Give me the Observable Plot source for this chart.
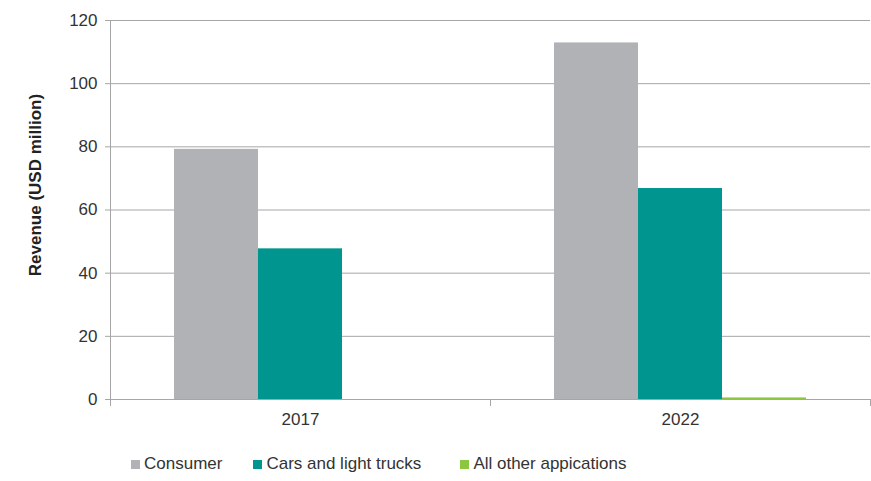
<!DOCTYPE html>
<html><head><meta charset="utf-8">
<script src="https://cdn.jsdelivr.net/npm/d3@7"></script>
<script src="https://cdn.jsdelivr.net/npm/@observablehq/plot@0.6"></script>
<style>
body{margin:0;background:#fff;font-family:"Liberation Sans",Arial,sans-serif;}
#legend{display:flex;align-items:center;height:20px;margin-top:14px;padding-left:131px;font-size:17px;color:#333;line-height:20px;}
#legend .item{display:flex;align-items:center;}
#legend .sw{width:9px;height:9px;margin-right:4px;}
</style></head><body><div id="chart"></div><div id="legend"></div>
<script>
const years = ["2017", "2022"];
const series = ["Consumer", "Cars and light trucks", "All other appications"];
const consumer = [79.2, 112.9];
const cars = [47.7, 66.8];
const other = [0, 0.5];
const colors = ["#b1b2b5", "#00968f", "#8dc63f"];
const yTicks = [0, 20, 40, 60, 80, 100, 120];

const data = years.flatMap((year, i) => [
  {year, series: series[0], value: consumer[i]},
  {year, series: series[1], value: cars[i]},
  {year, series: series[2], value: other[i]}
]);

const grid = "#a6a6a6";
const plot = Plot.plot({
  width: 871, height: 440,
  marginLeft: 110, marginRight: 1, marginTop: 20, marginBottom: 41,
  style: {fontFamily: "'Liberation Sans', Arial, sans-serif", fontSize: "17px", color: "#333", background: "#fff"},
  fx: {domain: years, padding: 0, label: null},
  x: {domain: series, paddingInner: 0, paddingOuter: 0.76, axis: null},
  y: {domain: [0, 120], label: null},
  color: {domain: series, range: colors},
  marks: [
    Plot.gridY(yTicks, {stroke: grid, strokeOpacity: 1}),
    Plot.barY(data, {fx: "year", x: "series", y: "value", fill: "series"}),
    Plot.axisY(yTicks, {tickSize: 5, tickPadding: 8, stroke: grid, label: null, facetAnchor: "left", fill: "#333"}),
    Plot.axisFx({tickSize: 0, tickPadding: 13, label: null, anchor: "bottom", fill: "#333"}),
    Plot.frame({anchor: "left", facetAnchor: "left", stroke: grid, insetBottom: -6}),
    Plot.frame({anchor: "left", stroke: grid, insetTop: 379, insetBottom: -6}),
    Plot.frame({anchor: "right", stroke: grid, insetTop: 379, insetBottom: -6}),
    Plot.text(["Revenue (USD million)"], {frameAnchor: "left", textAnchor: "middle", rotate: -90, dx: -75, dy: -25, fontWeight: "bold", fontSize: 17, letterSpacing: "0.3px", facetAnchor: "left", fill: "#222"})
  ]
});
document.getElementById("chart").append(plot);

const legend = document.getElementById("legend");
const gaps = [0, 31, 39];
series.forEach((s, i) => {
  const item = document.createElement("div");
  item.className = "item";
  item.style.marginLeft = gaps[i] + "px";
  const sw = document.createElement("span");
  sw.className = "sw";
  sw.style.background = colors[i];
  const t = document.createElement("span");
  t.textContent = s;
  item.append(sw, t);
  legend.append(item);
});
</script>
</body></html>
